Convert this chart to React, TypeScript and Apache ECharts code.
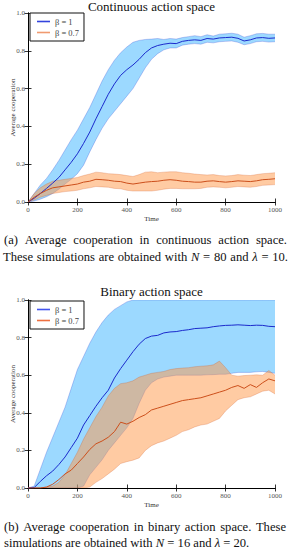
import React, { useEffect, useRef } from "react";
import * as echarts from "echarts";

// Time samples (shared by all series)
const T = [0, 25, 50, 75, 100, 125, 150, 175, 200, 225, 250, 275, 300, 325, 350, 375, 400, 425, 450, 475, 500, 525, 550, 575, 600, 625, 650, 675, 700, 725, 750, 775, 800, 825, 850, 875, 900, 925, 950, 975, 1000];

// (a) Continuous action space
const cBlueMean = [0, 0.02, 0.045, 0.072, 0.1, 0.13, 0.17, 0.21, 0.255, 0.31, 0.37, 0.44, 0.505, 0.57, 0.625, 0.67, 0.7, 0.725, 0.755, 0.79, 0.815, 0.828, 0.835, 0.84, 0.838, 0.85, 0.855, 0.858, 0.855, 0.865, 0.862, 0.868, 0.87, 0.872, 0.866, 0.852, 0.858, 0.868, 0.87, 0.866, 0.868];
const cBlueUpper = [0, 0.045, 0.09, 0.125, 0.17, 0.22, 0.275, 0.33, 0.38, 0.44, 0.5, 0.57, 0.64, 0.7, 0.75, 0.79, 0.82, 0.845, 0.855, 0.86, 0.862, 0.865, 0.86, 0.865, 0.862, 0.87, 0.875, 0.88, 0.875, 0.885, 0.878, 0.888, 0.89, 0.893, 0.888, 0.872, 0.88, 0.89, 0.892, 0.888, 0.888];
const cBlueLower = [0, 0.005, 0.015, 0.028, 0.045, 0.068, 0.095, 0.12, 0.15, 0.195, 0.265, 0.33, 0.39, 0.44, 0.48, 0.52, 0.56, 0.6, 0.655, 0.71, 0.755, 0.785, 0.805, 0.815, 0.815, 0.83, 0.835, 0.838, 0.835, 0.845, 0.842, 0.848, 0.85, 0.852, 0.845, 0.832, 0.838, 0.848, 0.85, 0.846, 0.848];
const cOrangeMean = [0, 0.025, 0.045, 0.062, 0.075, 0.08, 0.085, 0.09, 0.095, 0.105, 0.11, 0.12, 0.118, 0.115, 0.11, 0.108, 0.1, 0.095, 0.1, 0.105, 0.108, 0.11, 0.115, 0.118, 0.115, 0.11, 0.108, 0.105, 0.105, 0.11, 0.112, 0.108, 0.105, 0.108, 0.112, 0.11, 0.108, 0.112, 0.118, 0.12, 0.123];
const cOrangeUpper = [0, 0.045, 0.075, 0.095, 0.11, 0.115, 0.12, 0.125, 0.13, 0.14, 0.148, 0.158, 0.155, 0.15, 0.148, 0.145, 0.14, 0.135, 0.145, 0.158, 0.16, 0.155, 0.158, 0.16, 0.16, 0.155, 0.152, 0.148, 0.145, 0.143, 0.145, 0.14, 0.138, 0.14, 0.145, 0.142, 0.14, 0.145, 0.15, 0.152, 0.155];
const cOrangeLower = [0, 0.01, 0.025, 0.035, 0.045, 0.05, 0.055, 0.058, 0.062, 0.07, 0.075, 0.082, 0.08, 0.078, 0.072, 0.07, 0.062, 0.058, 0.058, 0.058, 0.058, 0.062, 0.068, 0.072, 0.072, 0.07, 0.07, 0.07, 0.072, 0.078, 0.08, 0.078, 0.075, 0.078, 0.082, 0.08, 0.078, 0.082, 0.088, 0.09, 0.092];

// (b) Binary action space
const bBlueMean = [0, 0.002, 0.035, 0.065, 0.09, 0.125, 0.165, 0.215, 0.265, 0.335, 0.385, 0.435, 0.48, 0.52, 0.585, 0.635, 0.68, 0.725, 0.765, 0.795, 0.808, 0.812, 0.825, 0.83, 0.832, 0.838, 0.842, 0.848, 0.85, 0.852, 0.858, 0.862, 0.865, 0.866, 0.868, 0.866, 0.864, 0.866, 0.865, 0.86, 0.858];
const bBlueUpper = [0, 0.01, 0.1, 0.19, 0.27, 0.35, 0.43, 0.53, 0.63, 0.7, 0.77, 0.83, 0.88, 0.92, 0.95, 0.97, 0.99, 1, 1, 1, 1, 1, 1, 1, 1, 1, 1, 1, 1, 1, 1, 1, 1, 1, 1, 1, 1, 1, 1, 1, 1];
const bBlueLower = [0, 0, 0, 0, 0, 0, 0, 0, 0, 0.01, 0.07, 0.11, 0.15, 0.2, 0.24, 0.28, 0.32, 0.37, 0.45, 0.52, 0.56, 0.58, 0.59, 0.595, 0.6, 0.6, 0.6, 0.6, 0.6, 0.602, 0.603, 0.605, 0.605, 0.61, 0.615, 0.615, 0.615, 0.618, 0.62, 0.615, 0.61];
const bOrangeMean = [0, 0, 0, 0.005, 0.02, 0.045, 0.075, 0.095, 0.13, 0.165, 0.205, 0.235, 0.25, 0.27, 0.3, 0.35, 0.34, 0.355, 0.375, 0.39, 0.415, 0.425, 0.435, 0.445, 0.455, 0.465, 0.47, 0.475, 0.48, 0.49, 0.5, 0.51, 0.52, 0.535, 0.545, 0.53, 0.55, 0.535, 0.56, 0.58, 0.57];
const bOrangeUpper = [0, 0, 0, 0.005, 0.01, 0.03, 0.07, 0.13, 0.19, 0.26, 0.32, 0.38, 0.43, 0.49, 0.53, 0.555, 0.56, 0.57, 0.59, 0.6, 0.61, 0.615, 0.62, 0.63, 0.635, 0.638, 0.64, 0.645, 0.648, 0.65, 0.655, 0.675, 0.64, 0.6, 0.595, 0.598, 0.6, 0.602, 0.6, 0.625, 0.6];
const bOrangeLower = [0, 0, 0, 0, 0, 0, 0, 0, 0, 0, 0.005, 0.03, 0.05, 0.075, 0.1, 0.13, 0.14, 0.148, 0.16, 0.2, 0.225, 0.24, 0.25, 0.265, 0.28, 0.3, 0.31, 0.325, 0.335, 0.34, 0.355, 0.37, 0.41, 0.44, 0.47, 0.48, 0.485, 0.5, 0.515, 0.52, 0.5];

const TITLES = ["Continuous action space", "Binary action space"];
const SERIES_NAMES = ["β = 1", "β = 0.7"];
const CAPTIONS = [
  ["(a) Average cooperation in continuous action space.", "These simulations are obtained with *N = 80 and *λ = 10."],
  ["(b) Average cooperation in binary action space. These", "simulations are obtained with *N = 16 and *λ = 20."],
];

const BLUE_LINE = "#1B2ACC";
const ORANGE_LINE = "#CC4F1B";
const BLUE_FILL = "rgba(8,159,255,0.4)";
const ORANGE_FILL = "rgba(255,152,72,0.5)";
const BLUE_EDGE = "rgba(27,42,204,0.3)";
const ORANGE_EDGE = "rgba(204,79,27,0.3)";
const SERIF = "Liberation Serif";

const pairs = (ys: number[]) => T.map((t, i) => [t, ys[i]]);

function band(lo: number[], hi: number[], g: number, fill: string, edge: string) {
  return {
    type: "custom",
    xAxisIndex: g * 2,
    yAxisIndex: g * 2,
    silent: true,
    clip: true,
    data: [[T[0], lo[0]]],
    renderItem: (_p: any, api: any) => {
      const up = T.map((t, i) => api.coord([t, hi[i]]));
      const dn = T.map((t, i) => api.coord([t, lo[i]]));
      return {
        type: "group",
        children: [
          { type: "polygon", shape: { points: up.concat(dn.slice().reverse()) }, style: { fill, stroke: "none" } },
          { type: "polyline", shape: { points: up }, style: { fill: "none", stroke: edge, lineWidth: 0.8 } },
          { type: "polyline", shape: { points: dn }, style: { fill: "none", stroke: edge, lineWidth: 0.8 } },
        ],
      };
    },
  };
}

function meanLine(name: string, ys: number[], g: number, color: string) {
  return {
    type: "line",
    name,
    xAxisIndex: g * 2,
    yAxisIndex: g * 2,
    symbol: "none",
    data: pairs(ys),
    itemStyle: { color },
    lineStyle: { color, width: 1 },
  };
}

// Build a caption line as word texts; justify = spread words to fill [x0, x1]
function captionLine(line: string, x0: number, x1: number, y: number, size: number, justify: boolean) {
  const canvas = document.createElement("canvas");
  const ctx = canvas.getContext("2d")!;
  const words = line.split(" ").map((w) => {
    const italic = w.startsWith("*");
    const text = italic ? w.slice(1) : w;
    ctx.font = `${italic ? "italic " : ""}${size}px "${SERIF}"`;
    return { text, italic, w: ctx.measureText(text).width };
  });
  ctx.font = `${size}px "${SERIF}"`;
  const space = ctx.measureText(" ").width;
  const total = words.reduce((s, w) => s + w.w, 0);
  const gap = justify && words.length > 1 ? (x1 - x0 - total) / (words.length - 1) : space;
  let x = x0;
  return words.map((w) => {
    const el = {
      type: "text", x, y, silent: true,
      style: { text: w.text, fill: "#111", fontSize: size, fontFamily: SERIF, fontStyle: w.italic ? "italic" : "normal", verticalAlign: "middle" },
    };
    x += w.w + gap;
    return el;
  });
}

export default function App() {
  const ref = useRef<HTMLDivElement>(null);
  useEffect(() => {
    if (!ref.current) return;
    const chart = echarts.init(ref.current, undefined, { renderer: "svg" });
    const grids = [
      { left: 28, top: 13, width: 247, height: 189, outerBoundsMode: "none", containLabel: false },
      { left: 28, top: 300, width: 247, height: 188, outerBoundsMode: "none", containLabel: false },
    ];
    const axisLine = { show: true, lineStyle: { color: "#000", width: 1 } };
    const axisTick = { show: true, inside: true, length: 3.5, lineStyle: { color: "#000", width: 0.8 } };
    const xAxes: any[] = [];
    const yAxes: any[] = [];
    grids.forEach((_, g) => {
      xAxes.push({
        gridIndex: g, type: "value", min: 0, max: 1000, interval: 200, position: "bottom",
        axisLine, axisTick, splitLine: { show: false },
        axisLabel: { fontSize: 7, color: "#555", margin: 4, fontFamily: SERIF, formatter: (v: number) => String(v) },
        name: "Time", nameLocation: "middle", nameGap: 13, nameMoveOverlap: false,
        nameTextStyle: { fontSize: 7, color: "#333", fontFamily: SERIF },
      });
      xAxes.push({
        gridIndex: g, type: "value", min: 0, max: 1000, interval: 200, position: "top",
        axisLine, axisTick, splitLine: { show: false }, axisLabel: { show: false },
      });
      yAxes.push({
        gridIndex: g, type: "value", min: 0, max: 1, interval: 0.2, position: "left",
        axisLine, axisTick, splitLine: { show: false },
        axisLabel: { fontSize: 7, color: "#555", margin: 3, fontFamily: SERIF, formatter: (v: number) => v.toFixed(1) },
        name: "Average cooperation", nameLocation: "middle", nameGap: 12, nameMoveOverlap: false,
        nameTextStyle: { fontSize: 7, color: "#333", fontFamily: SERIF },
      });
      yAxes.push({
        gridIndex: g, type: "value", min: 0, max: 1, interval: 0.2, position: "right",
        axisLine, axisTick, splitLine: { show: false }, axisLabel: { show: false },
      });
    });

    const series: any[] = [
      band(cBlueLower, cBlueUpper, 0, BLUE_FILL, BLUE_EDGE),
      band(cOrangeLower, cOrangeUpper, 0, ORANGE_FILL, ORANGE_EDGE),
      meanLine(SERIES_NAMES[0], cBlueMean, 0, BLUE_LINE),
      meanLine(SERIES_NAMES[1], cOrangeMean, 0, ORANGE_LINE),
      band(bBlueLower, bBlueUpper, 1, BLUE_FILL, BLUE_EDGE),
      band(bOrangeLower, bOrangeUpper, 1, ORANGE_FILL, ORANGE_EDGE),
      meanLine(SERIES_NAMES[0], bBlueMean, 1, BLUE_LINE),
      meanLine(SERIES_NAMES[1], bOrangeMean, 1, ORANGE_LINE),
    ];

    const legendBase = {
      left: 30, orient: "vertical", itemWidth: 13, itemHeight: 1.6, itemGap: 2,
      padding: [4, 5, 4, 7], borderColor: "#111", borderWidth: 1, backgroundColor: "#fff",
      selectedMode: false,
      textStyle: { fontSize: 8.5, color: "#444", fontFamily: SERIF },
    };
    const legends = [
      { ...legendBase, top: 13, data: [
        { name: SERIES_NAMES[0], icon: "rect", itemStyle: { color: "#3344DD" } },
        { name: SERIES_NAMES[1], icon: "rect", itemStyle: { color: "#F09A70" } },
      ] },
      { ...legendBase, top: 301, data: [
        { name: SERIES_NAMES[0], icon: "rect", itemStyle: { color: "#4455EE" } },
        { name: SERIES_NAMES[1], icon: "rect", itemStyle: { color: "#EE7040" } },
      ] },
    ];

    const capSize = 12.6;
    const graphic = [
      ...captionLine(CAPTIONS[0][0], 4, 287, 240, capSize, true),
      ...captionLine(CAPTIONS[0][1], 3, 288, 257, capSize, true),
      ...captionLine(CAPTIONS[1][0], 4, 286, 527, capSize, true),
      ...captionLine(CAPTIONS[1][1], 4, 262, 543, capSize, false),
    ];

    chart.setOption({
      animation: false,
      backgroundColor: "#fff",
      title: [
        { text: TITLES[0], left: 151.5, top: 0, padding: 0, textAlign: "center", textStyle: { fontSize: 13, fontWeight: "normal", color: "#111", fontFamily: SERIF } },
        { text: TITLES[1], left: 151.5, top: 285, padding: 0, textAlign: "center", textStyle: { fontSize: 13, fontWeight: "normal", color: "#111", fontFamily: SERIF } },
      ],
      grid: grids,
      xAxis: xAxes,
      yAxis: yAxes,
      legend: legends,
      series,
      graphic,
    });
    return () => chart.dispose();
  }, []);
  return <div ref={ref} style={{ position: "fixed", left: 0, top: 0, width: 291, height: 550 }} />;
}
